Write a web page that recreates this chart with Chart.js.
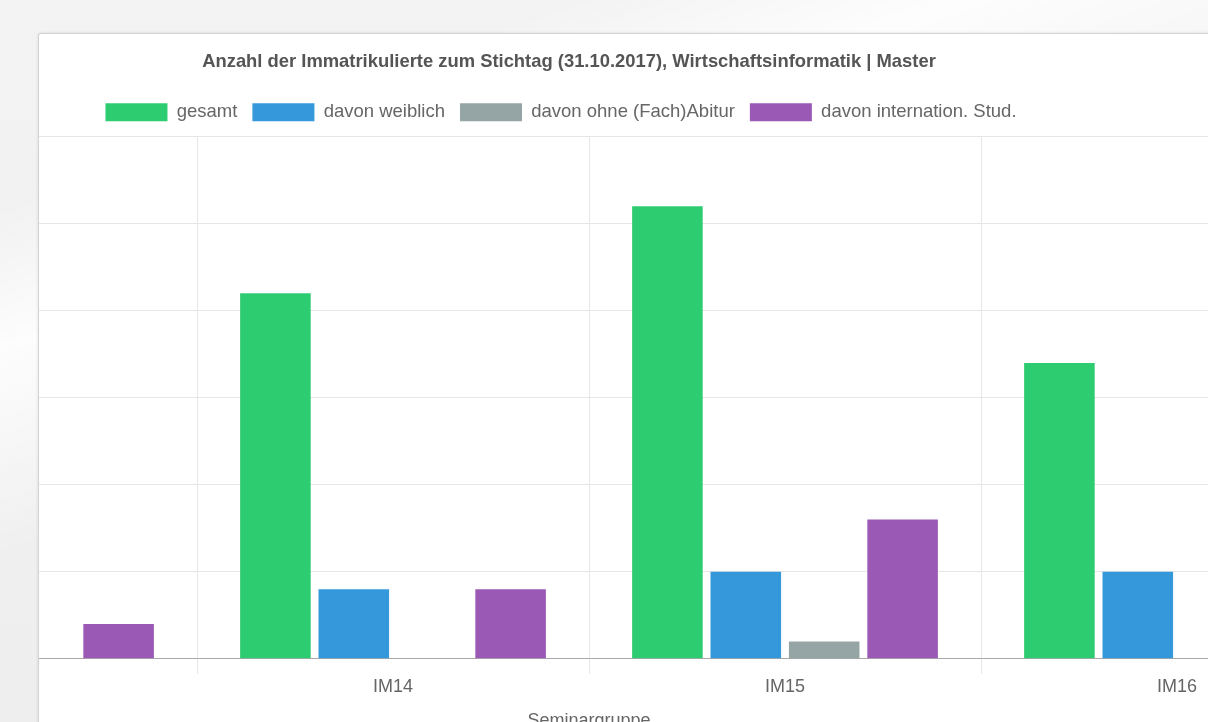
<!DOCTYPE html>
<html>
<head>
<meta charset="utf-8">
<script src="https://cdn.jsdelivr.net/npm/chart.js@4/dist/chart.umd.min.js"></script>
<style>
    html, body { margin: 0; padding: 0; width: 1208px; height: 722px; overflow: hidden; }
    body {
        background:
            linear-gradient(160deg, rgba(255,255,255,0) 0%, rgba(255,255,255,0) 18%, rgba(255,255,255,0.85) 30%, rgba(255,255,255,0) 48%),
            linear-gradient(180deg, #f3f3f3 0%, #eeeeee 100%);
        font-family: "Liberation Sans", Arial, sans-serif;
    }
    .panel {
        position: absolute;
        left: 38px;
        top: 33px;
        width: 1300px;
        height: 800px;
        background: #fff;
        border: 1px solid #d4d4d4;
        border-radius: 3px;
        box-shadow: 0 0 3px rgba(0,0,0,0.12);
        overflow: hidden;
    }
    .wrap {
        position: absolute;
        left: -274px;
        top: 1px;
        width: 1610px;
        height: 701px;
    }
</style>
</head>
<body>
<div class="panel">
    <div class="wrap"><canvas id="grafico"></canvas></div>
</div>
<script>
const gruppen = ['IM13', 'IM14', 'IM15', 'IM16']
const gesamt = [18, 21, 26, 17]
const weiblich = [4, 4, 5, 5]
const ohneAbitur = [0, 0, 1, 0]
const international = [2, 4, 8, 5]
const yTicks = [0, 5, 10, 15, 20, 25, 30]

const schrift = '"Liberation Sans", Arial, sans-serif'
Chart.defaults.font.family = schrift
Chart.defaults.color = '#666'

const ctx = document.getElementById('grafico')

// etwas mehr Luft unter der Legende, Legende leicht nach links
const legendeAnpassen = {
    id: 'legendeAnpassen',
    beforeInit(chart) {
        const fit = chart.legend.fit
        chart.legend.fit = function() {
            fit.call(this)
            this.height += 5
        }
    },
    afterLayout(chart) {
        chart.legend.left -= 8
        chart.legend.right -= 8
    }
}

new Chart(ctx, {
    type: 'bar',
    data: {
        labels: gruppen,
        datasets: [
            { label: 'gesamt', data: gesamt, backgroundColor: '#2ecc71' },
            { label: 'davon weiblich', data: weiblich, backgroundColor: '#3498db' },
            { label: 'davon ohne (Fach)Abitur', data: ohneAbitur, backgroundColor: '#95a5a6' },
            { label: 'davon internation. Stud.', data: international, backgroundColor: '#9b59b6' }
        ]
    },
    plugins: [legendeAnpassen],
    options: {
        responsive: true,
        maintainAspectRatio: false,
        animation: false,
        layout: { padding: { left: 0, right: 2, top: 0, bottom: 0 } },
        plugins: {
            title: {
                display: true,
                text: 'Anzahl der Immatrikulierte zum Stichtag (31.10.2017), Wirtschaftsinformatik | Master',
                color: '#555',
                font: { size: 18.4, weight: 'bold' },
                padding: { top: 16, bottom: 15 }
            },
            legend: {
                position: 'top',
                labels: {
                    boxWidth: 62,
                    boxHeight: 18,
                    padding: 15,
                    color: '#666',
                    font: { size: 18.5 }
                }
            },
            tooltip: { enabled: false }
        },
        scales: {
            x: {
                grid: { color: '#e6e6e6', tickLength: 15, offset: true },
                border: { color: '#a8a8a8' },
                ticks: { font: { size: 18 }, color: '#666', padding: 2 },
                title: {
                    display: true,
                    text: 'Seminargruppe',
                    font: { size: 18 },
                    color: '#666',
                    padding: { top: 11, bottom: 4 }
                }
            },
            y: {
                min: yTicks[0],
                max: yTicks[yTicks.length - 1],
                ticks: { stepSize: yTicks[1] - yTicks[0], font: { size: 18 } },
                grid: { color: '#e6e6e6' },
                border: { display: false },
                afterFit: function(scale) { scale.width = 40 }
            }
        }
    }
})
</script>
</body>
</html>
